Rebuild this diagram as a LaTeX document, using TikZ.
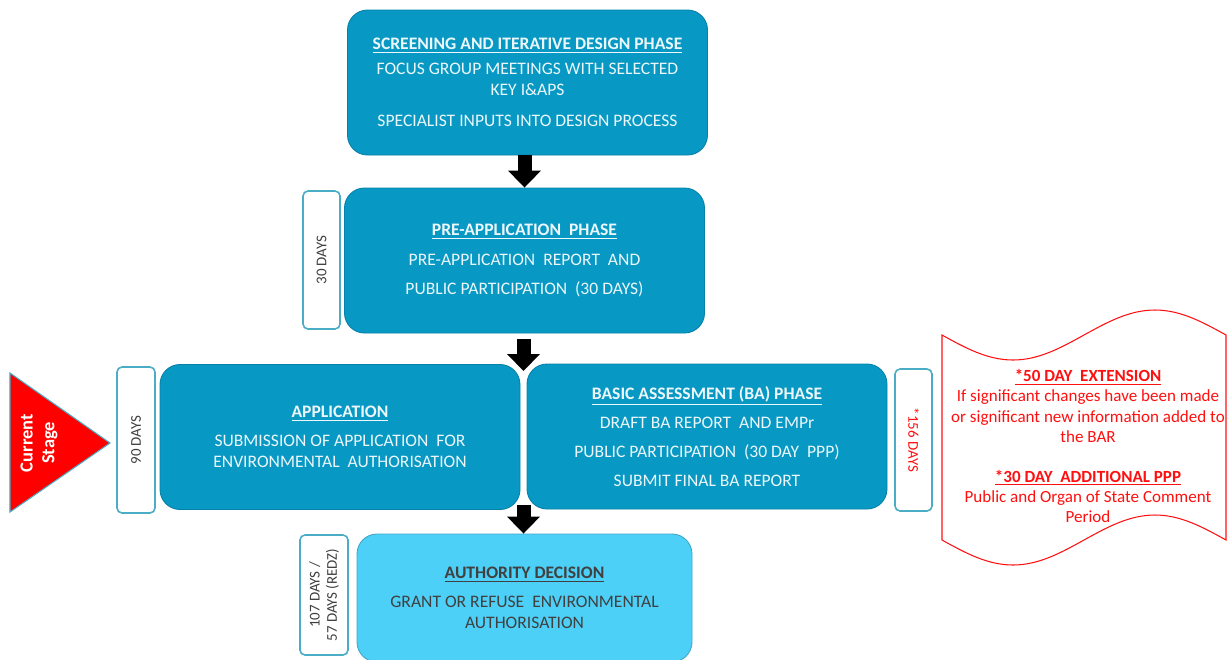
\documentclass[tikz,border=0pt]{standalone}
\usepackage{fontspec}
\setmainfont{Carlito}
\usepackage{tikz}
\usetikzlibrary{arrows.meta,shapes,positioning,calc}
\usepackage{xcolor}
\definecolor{phaseblue}{HTML}{0798C4}
\definecolor{decisionblue}{HTML}{4DD0F7}
\definecolor{edgeblue}{HTML}{4BACC6}
\definecolor{daygray}{HTML}{404040}
\definecolor{extred}{HTML}{FF1010}

\begin{document}
\begin{tikzpicture}[
    phase/.style={draw=phaseblue!85!black, fill=phaseblue, line width=0.5pt,
        rounded corners=0.4cm, minimum width=7.2cm, minimum height=2.9cm,
        text=white!92!phaseblue, align=center, font=\fontsize{10}{11.8}\selectfont},
    days/.style={draw=edgeblue, fill=white, line width=0.9pt, rounded corners=0.1cm,
        align=center, text=daygray, font=\fontsize{8.5}{9.8}\selectfont},
    bigarrow/.style={line width=0.28cm, black,
        -{Triangle[width=0.64cm,length=0.34cm]}},
]
    \clip (0,0) rectangle (24.54,-13.18);

    % phase boxes
    \node[phase] (screen) at (10.55,-1.65) {%
        \textbf{\underline{SCREENING AND ITERATIVE DESIGN PHASE}}\\[2.4pt]
        FOCUS GROUP MEETINGS WITH SELECTED\\
        KEY I\&APS\\[5.8pt]
        SPECIALIST INPUTS INTO DESIGN PROCESS};
    \node[phase] (pre) at (10.49,-5.21) {%
        \textbf{\underline{PRE-APPLICATION\ \ PHASE}}\\[4.8pt]
        PRE-APPLICATION\ \ REPORT\ \ AND\\[4.8pt]
        PUBLIC PARTICIPATION\ \ (30 DAYS)};
    \node[phase] (app) at (6.80,-8.74) {%
        \textbf{\underline{APPLICATION}}\\[4.7pt]
        SUBMISSION OF APPLICATION\ \ FOR\\
        ENVIRONMENTAL\ \ AUTHORISATION};
    \node[phase] (ba) at (14.14,-8.73) {%
        \textbf{\underline{BASIC ASSESSMENT (BA) PHASE}}\\[4.7pt]
        DRAFT BA REPORT\ \ AND EMPr\\[4.7pt]
        PUBLIC PARTICIPATION\ \ (30 DAY\ \ PPP)\\[4.7pt]
        SUBMIT FINAL BA REPORT};
    \node[phase, fill=decisionblue, draw=decisionblue!80!black, text=daygray,
        minimum width=6.7cm, minimum height=2.56cm] (auth) at (10.49,-11.96) {%
        \textbf{\underline{AUTHORITY DECISION}}\\[4.7pt]
        GRANT OR REFUSE\ \ ENVIRONMENTAL\\
        AUTHORISATION};

    % durations
    \node[days, rotate=90, minimum width=2.76cm, minimum height=0.74cm] (d30) at (6.43,-5.20) {30 DAYS};
    \node[days, rotate=90, minimum width=2.92cm, minimum height=0.76cm] (d90) at (2.72,-8.80) {90 DAYS};
    \node[days, rotate=-90, minimum width=2.84cm, minimum height=0.74cm, text=extred] (d156) at (18.27,-8.80) {*156 DAYS};
    \node[days, rotate=90, minimum width=2.40cm, minimum height=0.96cm] (d107) at (6.48,-11.90) {107 DAYS /\\57 DAYS (REDZ)};

    % current stage marker
    \draw[draw=edgeblue, fill=red, line width=0.6pt] (0.2,-7.46) -- (0.2,-10.24) -- (2.2,-8.86) -- cycle;
    \node[rotate=90, text=white, align=center, font=\fontsize{10.5}{12.5}\selectfont\bfseries] (stage) at (0.78,-8.86) {Current\\Stage};

    % arrows
    \coordinate (gaptop) at (10.47,-7.42);
    \coordinate (gapbot) at (10.47,-10.10);
    \draw[bigarrow] (screen.south -| pre.north) -- (pre.north);
    \draw[bigarrow, shorten <=0.12cm] (pre.south -| gaptop) -- (gaptop);
    \draw[bigarrow] (gapbot) -- (gapbot |- auth.north);

    % extension note
    \draw[extred, fill=white, line width=0.6pt]
        (18.84,-6.70) sin (20.26,-7.20) cos (21.68,-6.70) sin (23.10,-6.20) cos (24.52,-6.70)
        -- (24.52,-10.80)
        sin (23.10,-10.30) cos (21.68,-10.80) sin (20.26,-11.30) cos (18.84,-10.80) -- cycle;
    \node[text=extred, align=center, font=\fontsize{9.7}{11.4}\selectfont] (ext) at (21.76,-8.92) {%
        \textbf{\underline{*50 DAY\ \ EXTENSION}}\\
        If significant changes have been made\\
        or significant new information added to\\
        the BAR\\[11.4pt]
        \textbf{\underline{*30 DAY\ \ ADDITIONAL PPP}}\\
        Public and Organ of State Comment\\
        Period};
\end{tikzpicture}
\end{document}
